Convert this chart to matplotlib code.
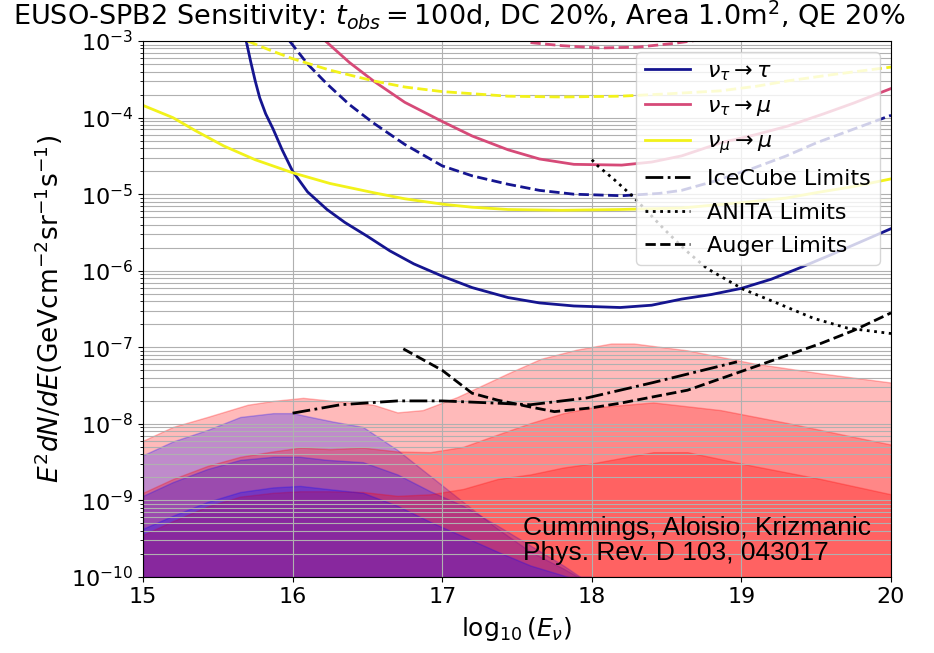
import matplotlib
matplotlib.use('Agg')
import matplotlib.pyplot as plt
import numpy as np

# --- curves as log10(E^2 dN/dE) vs log10(E)
tau_x = [15.69, 15.72, 15.75, 15.78, 15.82, 15.87, 15.93, 16.0, 16.1, 16.23, 16.35, 16.5, 16.65, 16.81, 17.0, 17.2,
         17.44, 17.65, 17.88, 18.19, 18.4, 18.6, 18.8, 19.0, 19.2, 19.38, 19.6, 19.8, 20.0]
tau_y = [-3.0, -3.27, -3.52, -3.74, -3.95, -4.15, -4.42, -4.7, -4.97, -5.2, -5.37, -5.55, -5.74, -5.91, -6.07, -6.22,
         -6.35, -6.42, -6.46, -6.48, -6.45, -6.37, -6.31, -6.23, -6.11, -5.97, -5.79, -5.62, -5.45]
tau2_x = [15.98, 16.1, 16.23, 16.38, 16.54, 16.75, 17.0, 17.2, 17.44, 17.65, 17.88, 18.2, 18.45, 18.6, 18.82, 19.08,
          19.3, 19.5, 19.75, 20.0]
tau2_y = [-3.0, -3.3, -3.56, -3.83, -4.07, -4.35, -4.63, -4.76, -4.87, -4.95, -5.0, -5.02, -4.99, -4.95, -4.83, -4.66,
          -4.5, -4.33, -4.15, -3.97]

taumu_x = [16.22, 16.38, 16.54, 16.75, 17.0, 17.2, 17.44, 17.65, 17.88, 18.2, 18.4, 18.6, 18.86, 19.1, 19.31, 19.55,
           19.75, 20.0]
taumu_y = [-3.0, -3.28, -3.52, -3.8, -4.05, -4.24, -4.42, -4.54, -4.61, -4.62, -4.58, -4.5, -4.33, -4.22, -4.11, -3.95,
           -3.81, -3.62]
taumu2_x = [17.59, 17.8, 18.05, 18.3, 18.55, 18.7, 19.0]
taumu2_y = [-3.02, -3.06, -3.09, -3.08, -3.03, -2.99, -2.9]

mumu_x = [15.0, 15.2, 15.35, 15.54, 15.75, 16.0, 16.25, 16.54, 16.75, 17.0, 17.2, 17.44, 17.8, 18.19, 18.6, 19.0,
          19.3, 19.5, 19.75, 20.0]
mumu_y = [-3.84, -4.0, -4.17, -4.37, -4.55, -4.72, -4.86, -4.98, -5.06, -5.13, -5.17, -5.2, -5.21, -5.2, -5.18, -5.11,
          -5.05, -4.98, -4.9, -4.8]
mumu2_x = [15.7, 15.85, 16.0, 16.25, 16.54, 16.75, 17.0, 17.44, 17.8, 18.19, 18.5, 18.86, 19.1, 19.31, 19.6, 20.0]
mumu2_y = [-3.0, -3.12, -3.23, -3.38, -3.52, -3.6, -3.66, -3.72, -3.73, -3.72, -3.69, -3.65, -3.59, -3.52, -3.44, -3.34]

icecube_x = [16.0, 16.32, 16.7, 17.0, 17.37, 17.59, 17.97, 18.41, 18.97]
icecube_y = [-7.86, -7.75, -7.70, -7.70, -7.73, -7.75, -7.66, -7.46, -7.19]
anita_x = [18.0, 18.04, 18.15, 18.28, 18.48, 18.62, 18.77, 19.01, 19.26, 19.48, 19.71, 20.0]
anita_y = [-4.55, -4.63, -4.81, -5.04, -5.45, -5.72, -5.97, -6.24, -6.44, -6.62, -6.75, -6.82]
auger_x = [16.74, 17.0, 17.2, 17.37, 17.59, 17.75, 18.0, 18.19, 18.64, 19.08, 19.53, 19.75, 20.0]
auger_y = [-7.02, -7.3, -7.6, -7.69, -7.78, -7.84, -7.79, -7.73, -7.56, -7.26, -6.95, -6.78, -6.55]

# --- flux model bands (red and blue)
red1_x = [15.0, 15.2, 15.43, 15.7, 15.87, 16.07, 16.32, 16.54, 16.7, 16.87, 17.1, 17.44, 17.66, 17.9, 18.13, 18.28,
          18.64, 19.08, 19.53, 20.0]
red1_y = [-8.22, -8.04, -7.91, -7.75, -7.7, -7.66, -7.71, -7.75, -7.85, -7.82, -7.65, -7.34, -7.15, -7.03, -6.95,
          -6.95, -7.04, -7.21, -7.34, -7.46]
blue1_x = [15.0, 15.2, 15.43, 15.65, 15.87, 16.0, 16.12, 16.27, 16.47, 16.7, 16.92, 17.14, 17.37, 17.59, 17.81, 18.0]
blue1_y = [-8.41, -8.23, -8.08, -7.91, -7.86, -7.86, -7.91, -7.97, -8.04, -8.34, -8.68, -9.02, -9.37, -9.67, -9.89,
           -10.1]
red2_x = [15.0, 15.2, 15.43, 15.65, 15.87, 16.05, 16.25, 16.47, 16.7, 16.92, 17.14, 17.37, 17.59, 17.81, 17.99,
          18.41, 18.86, 19.31, 19.75, 20.0]
red2_y = [-8.9, -8.72, -8.55, -8.43, -8.36, -8.31, -8.33, -8.31, -8.36, -8.37, -8.3, -8.14, -7.99, -7.86, -7.79,
          -7.72, -7.82, -7.99, -8.17, -8.27]
blue2_x = [15.0, 15.2, 15.43, 15.65, 15.87, 16.05, 16.23, 16.47, 16.7, 16.92, 17.14, 17.37, 17.59, 17.81, 18.0]
blue2_y = [-8.94, -8.76, -8.59, -8.47, -8.43, -8.43, -8.47, -8.5, -8.66, -8.88, -9.07, -9.33, -9.59, -9.85, -10.1]
red3_x = [15.0, 15.2, 15.43, 15.65, 15.87, 16.05, 16.23, 16.47, 16.7, 16.92, 17.14, 17.37, 17.59, 17.81, 17.99,
          18.41, 18.64, 19.08, 19.53, 20.0]
red3_y = [-9.45, -9.27, -9.08, -8.95, -8.9, -8.88, -8.88, -8.89, -8.94, -8.92, -8.85, -8.72, -8.66, -8.57, -8.52,
          -8.37, -8.37, -8.55, -8.72, -8.92]
blue3_x = [15.0, 15.2, 15.43, 15.65, 15.87, 16.05, 16.23, 16.47, 16.7, 16.92, 17.14, 17.37, 17.59, 17.81, 18.0]
blue3_y = [-9.37, -9.2, -9.02, -8.89, -8.83, -8.81, -8.85, -8.9, -9.07, -9.28, -9.47, -9.67, -9.85, -9.98, -10.1]

FLOOR = 1e-10

plt.rc('font', size=16)
plt.rc('axes', labelsize=18)
plt.rc('xtick', labelsize=16)
plt.rc('ytick', labelsize=16)
plt.rc('legend', fontsize=16)

fig = plt.figure(figsize=(9.34, 6.53), dpi=100)
ax = fig.add_axes([0.1531, 0.1164, 0.8009, 0.8207])

# bands: red then blue for each config
bands = [(red1_x, red1_y, blue1_x, blue1_y),
         (red2_x, red2_y, blue2_x, blue2_y),
         (red3_x, red3_y, blue3_x, blue3_y)]
for rx, ry, bx, by in bands:
    ax.fill_between(rx, 10**np.array(ry), FLOOR, color='red', alpha=0.27)
    ax.fill_between(bx, 10**np.array(by), FLOOR, color='blue', alpha=0.25)

c_tau = '#151590'
c_mu = '#d64a78'
c_yel = '#f2f21a'
ax.plot(tau_x, 10**np.array(tau_y), color=c_tau, lw=2, label=r'$\nu_\tau \rightarrow \tau$')
ax.plot(taumu_x, 10**np.array(taumu_y), color=c_mu, lw=2, label=r'$\nu_\tau \rightarrow \mu$')
ax.plot(mumu_x, 10**np.array(mumu_y), color=c_yel, lw=2, label=r'$\nu_\mu \rightarrow \mu$')
ax.plot(tau2_x, 10**np.array(tau2_y), color=c_tau, lw=2, ls='--')
ax.plot(taumu2_x, 10**np.array(taumu2_y), color=c_mu, lw=2, ls='--')
ax.plot(mumu2_x, 10**np.array(mumu2_y), color=c_yel, lw=2, ls='--')

ax.plot(icecube_x, 10**np.array(icecube_y), color='k', lw=2, ls='-.', label='IceCube Limits')
ax.plot(anita_x, 10**np.array(anita_y), color='k', lw=2, ls=':', label='ANITA Limits')
ax.plot(auger_x, 10**np.array(auger_y), color='k', lw=2, ls='--', label='Auger Limits')

ax.set_yscale('log')
ax.set_xlim(15, 20)
ax.set_ylim(1e-10, 1e-3)
ax.grid(True, which='major')
ax.grid(True, which='minor', axis='y')

ax.text(17.54, 10**-9.2, 'Cummings, Aloisio, Krizmanic\nPhys. Rev. D 103, 043017',
        family='Liberation Sans', fontsize=19, va='top', ha='left', linespacing=1.05)

ax.legend(loc='upper right', labelspacing=0.6)
fig.text(0.492, 0.962, r'EUSO-SPB2 Sensitivity: $t_{obs} = 100$d, DC 20%, Area 1.0m$^2$, QE 20%',
         fontsize=19.5, ha='center', va='baseline')
ax.set_xlabel(r'$\log_{10}(E_\nu)$', labelpad=6)
ax.set_ylabel(r'$E^2dN/dE$(GeVcm$^{-2}$sr$^{-1}$s$^{-1}$)', fontsize=19)

plt.savefig('out.png', dpi=100)
